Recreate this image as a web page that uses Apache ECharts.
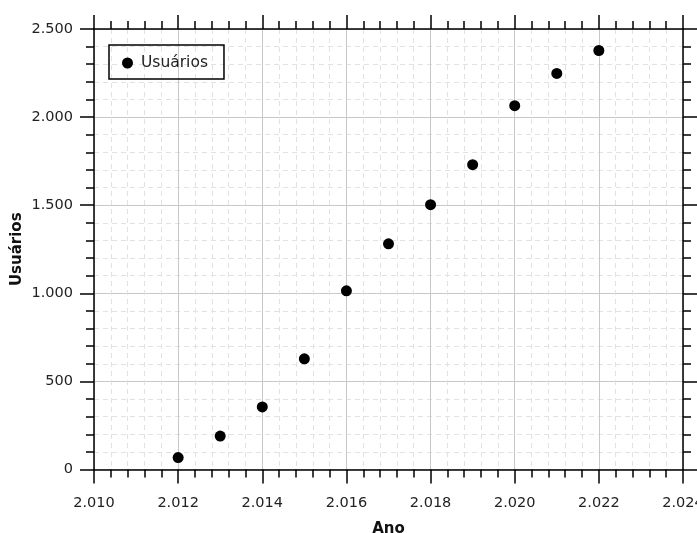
<!DOCTYPE html>
<html>
<head>
<meta charset="utf-8">
<script src="https://cdn.jsdelivr.net/npm/echarts@6/dist/echarts.min.js"></script>
<style>html,body{margin:0;padding:0;background:#fff}#c{width:697px;height:533px}</style>
</head>
<body>
<div id="c"></div>
<script>
const years = [2012, 2013, 2014, 2015, 2016, 2017, 2018, 2019, 2020, 2021, 2022];
const users = [68, 190, 355, 628, 1014, 1281, 1503, 1730, 2065, 2248, 2378];
const seriesName = 'Usuários';
const xTitle = 'Ano';
const yTitle = 'Usuários';

function fmt(v) {
  return String(v).replace(/\B(?=(\d{3})+(?!\d))/g, '.');
}
const font = 'DejaVu Sans';
const axisLine = { show: true, onZero: false, lineStyle: { color: '#000', width: 1.5 } };
const tick = { show: true, inside: false, length: 14, lineStyle: { color: '#000', width: 1.5 } };
const minorTick = { show: true, splitNumber: 5, length: 8, lineStyle: { color: '#000', width: 1.5 } };

const chart = echarts.init(document.getElementById('c'), null, { renderer: 'canvas' });
chart.setOption({
  animation: false,
  backgroundColor: '#fff',
  grid: { left: 94, right: 14, top: 29, bottom: 63.5, containLabel: false, outerBoundsMode: 'none' },
  legend: {
    left: 109, top: 45,
    padding: [10, 16, 8, 13],
    borderColor: '#000', borderWidth: 1.5, borderRadius: 0,
    itemWidth: 11, itemHeight: 11,
    textStyle: { fontFamily: font, fontSize: 15.5, color: '#222', padding: [0, 0, 0, 3] },
    data: [{ name: seriesName, icon: 'circle', itemStyle: { color: '#000', opacity: 1 } }]
  },
  xAxis: [{
    type: 'value', min: 2010, max: 2024, interval: 2, position: 'bottom',
    name: xTitle, nameLocation: 'middle', nameGap: 52, nameMoveOverlap: false,
    nameTextStyle: { fontFamily: font, fontSize: 15, fontWeight: 'bold', color: '#111' },
    axisLine: axisLine, axisTick: tick, minorTick: minorTick,
    axisLabel: { margin: 26, fontFamily: font, fontSize: 14.5, color: '#222', formatter: fmt, showMinLabel: true, showMaxLabel: true },
    splitLine: { show: true, lineStyle: { color: '#c8c8c8', width: 1 } },
    minorSplitLine: { show: true, lineStyle: { color: '#e2e2e2', width: 1, type: [5, 4] } }
  }, {
    type: 'value', min: 2010, max: 2024, interval: 2, position: 'top',
    axisLine: axisLine, axisTick: tick, minorTick: minorTick,
    axisLabel: { show: false }, splitLine: { show: false }
  }],
  yAxis: [{
    type: 'value', min: 0, max: 2500, interval: 500, position: 'left',
    name: yTitle, nameLocation: 'middle', nameGap: 69, nameRotate: 90, nameMoveOverlap: false,
    nameTextStyle: { fontFamily: font, fontSize: 15, fontWeight: 'bold', color: '#111' },
    axisLine: axisLine, axisTick: tick, minorTick: minorTick,
    axisLabel: { margin: 21, fontFamily: font, fontSize: 14.5, color: '#222', formatter: fmt },
    splitLine: { show: true, lineStyle: { color: '#c8c8c8', width: 1 } },
    minorSplitLine: { show: true, lineStyle: { color: '#e2e2e2', width: 1, type: [5, 4] } }
  }, {
    type: 'value', min: 0, max: 2500, interval: 500, position: 'right',
    axisLine: axisLine, axisTick: tick, minorTick: minorTick,
    axisLabel: { show: false }, splitLine: { show: false }
  }],
  series: [{
    name: seriesName, type: 'scatter', xAxisIndex: 0, yAxisIndex: 0,
    symbol: 'circle', symbolSize: 11,
    itemStyle: { color: '#000', opacity: 1 },
    data: years.map((y, i) => [y, users[i]])
  }]
});
</script>
</body>
</html>
